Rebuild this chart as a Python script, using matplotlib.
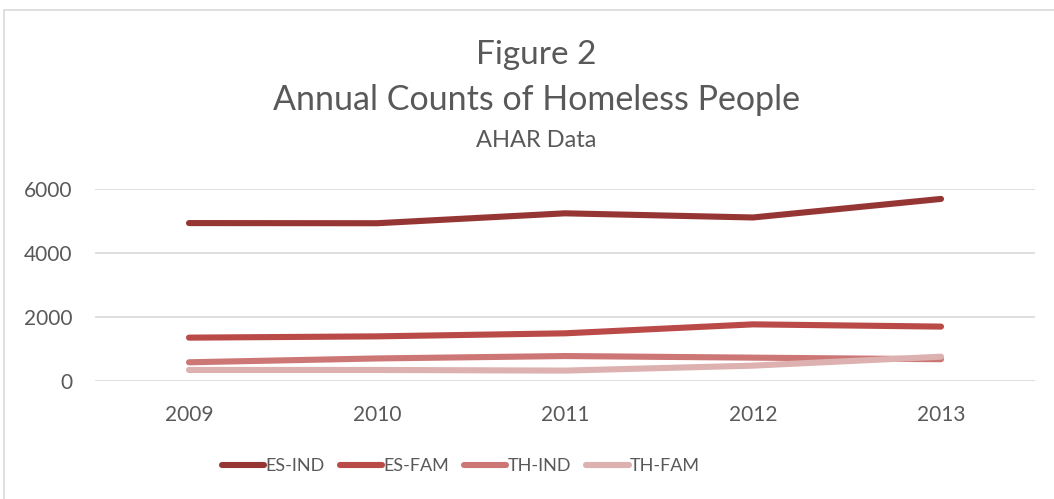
import matplotlib
matplotlib.use("Agg")
import matplotlib.pyplot as plt
from matplotlib.patches import Rectangle

# values
years = ["2009", "2010", "2011", "2012", "2013"]
es_ind = [4935, 4930, 5240, 5110, 5690]
es_fam = [1355, 1395, 1490, 1770, 1700]
th_ind = [585, 705, 780, 730, 680]
th_fam = [345, 345, 325, 480, 760]

series_names = ["ES-IND", "ES-FAM", "TH-IND", "TH-FAM"]
series_values = [es_ind, es_fam, th_ind, th_fam]
colors = ["#963634", "#B94A48", "#CC7775", "#DDB1B0"]

plt.rcParams["font.family"] = ["Lato", "DejaVu Sans"]
text_color = "#595959"

fig = plt.figure(figsize=(10.54, 4.99), dpi=100)
fig.patches.append(Rectangle((4 / 1054, -0.1), 1.2, 1 - 10 / 499 + 0.1,
                             transform=fig.transFigure, fill=False,
                             edgecolor="#D9D9D9", linewidth=1.2))

ax = fig.add_axes([95 / 1054, 1 - 381 / 499, 940 / 1054, 192 / 499])
x = list(range(len(years)))
for name, vals, c in zip(series_names, series_values, colors):
    ax.plot(x, vals, color=c, linewidth=4.4, solid_capstyle="round",
            solid_joinstyle="round", label=name)

ax.set_xlim(-0.5, len(years) - 0.5)
ax.set_ylim(0, 6000)
ax.set_yticks([0, 2000, 4000, 6000])
ax.set_xticks(x)
ax.set_xticklabels(years)
ax.grid(axis="y", color="#D9D9D9", linewidth=1.2)
ax.set_axisbelow(True)
for s in ax.spines.values():
    s.set_visible(False)
ax.tick_params(length=0, labelsize=15, colors=text_color)
ax.tick_params(axis="y", pad=16)
ax.tick_params(axis="x", pad=17)

fig.text(0.509, 1 - 55 / 499, "Figure 2", ha="center", va="center",
         fontsize=24, color=text_color)
fig.text(0.509, 1 - 100 / 499, "Annual Counts of Homeless People", ha="center",
         va="center", fontsize=24.5, color=text_color)
fig.text(0.509, 1 - 140 / 499, "AHAR Data", ha="center", va="center",
         fontsize=17, color=text_color)

leg = fig.legend(loc="center", bbox_to_anchor=(0.437, 1 - 466 / 499), ncol=4,
                 frameon=False, fontsize=13, handlelength=2.35,
                 handletextpad=0.05, columnspacing=0.85)
for t in leg.get_texts():
    t.set_color(text_color)

fig.savefig("out.png", dpi=100)
